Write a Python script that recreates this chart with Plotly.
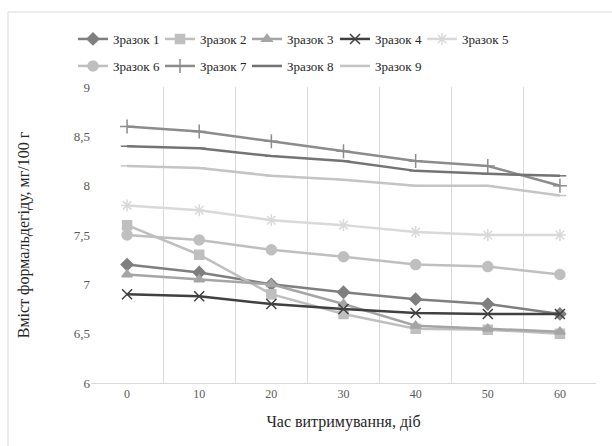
import plotly.graph_objects as go

days = ["0", "10", "20", "30", "40", "50", "60"]
names = ["Зразок 1", "Зразок 2", "Зразок 3", "Зразок 4", "Зразок 5",
         "Зразок 6", "Зразок 7", "Зразок 8", "Зразок 9"]
s1 = [7.20, 7.12, 7.00, 6.92, 6.85, 6.80, 6.70]
s2 = [7.60, 7.30, 6.90, 6.70, 6.55, 6.54, 6.50]
s3 = [7.10, 7.05, 7.00, 6.80, 6.58, 6.55, 6.52]
s4 = [6.90, 6.88, 6.80, 6.75, 6.71, 6.70, 6.70]
s5 = [7.80, 7.75, 7.65, 7.60, 7.53, 7.50, 7.50]
s6 = [7.50, 7.45, 7.35, 7.28, 7.20, 7.18, 7.10]
s7 = [8.60, 8.55, 8.45, 8.35, 8.25, 8.20, 8.00]
s8 = [8.40, 8.38, 8.30, 8.25, 8.15, 8.12, 8.10]
s9 = [8.20, 8.18, 8.10, 8.06, 8.00, 8.00, 7.90]
series = [s1, s2, s3, s4, s5, s6, s7, s8, s9]

colors = ["#7f7f7f", "#bfbfbf", "#a5a5a5", "#404040", "#d9d9d9",
          "#bfbfbf", "#8c8c8c", "#737373", "#c4c4c4"]
symbols = ["diamond", "square", "triangle-up", "x-thin-open", "asterisk-open",
           "circle", "cross-thin-open", "line-ew-open", "line-ew-open"]
sizes = [9, 9, 9, 10, 10, 10, 10, 9, 9]

FONT = "Liberation Serif, Times New Roman, serif"

L, R, T, B = 91, 596, 87, 383
W, H = 612, 446
pw, ph = R - L, B - T

# legend entry pixel anchors (left of symbol, row centre)
leg_x = [79, 166, 253, 341, 428, 79, 166, 253, 341]
leg_y = [39, 39, 39, 39, 39, 66, 66, 66, 66]

fig = go.Figure()
legends = {}
for i, (name, ys, c, sym, sz) in enumerate(zip(names, series, colors, symbols, sizes)):
    lname = "legend" if i == 0 else f"legend{i + 1}"
    fig.add_trace(go.Scatter(
        x=days, y=ys, name=name, mode="lines+markers",
        legend=lname,
        line=dict(color=c, width=2.5),
        marker=dict(symbol=sym, size=sz, color=c, line=dict(color=c, width=1.5)),
    ))
    legends[lname] = dict(orientation="h", xanchor="left", yanchor="middle",
                          x=(leg_x[i] - 6 - L) / pw, y=(B - leg_y[i]) / ph,
                          font=dict(family=FONT, size=13, color="#262626"),
                          itemwidth=30, bgcolor="rgba(0,0,0,0)")

fig.update_layout(
    width=W, height=H,
    margin=dict(l=L, r=W - R, t=T, b=H - B, autoexpand=False),
    paper_bgcolor="white", plot_bgcolor="white",
    separators=", ",
    font=dict(family=FONT, color="#595959"),
    showlegend=True,
    xaxis=dict(type="category", range=[-0.5, 6.5], tickson="boundaries",
               showgrid=True, gridcolor="#d9d9d9", gridwidth=1,
               showline=True, linecolor="#d9d9d9", linewidth=1,
               ticks="", tickfont=dict(family=FONT, size=12, color="#595959"),
               title=dict(text="Час витримування, діб",
                          font=dict(family=FONT, size=16, color="#262626"), standoff=15),
               zeroline=False),
    yaxis=dict(range=[6, 9], dtick=0.5, tick0=6, showgrid=False,
               showline=False, zeroline=False, ticks="",
               tickfont=dict(family=FONT, size=13, color="#595959"),
               tickformat=".1~f",
               title=dict(text="Вміст формальдегіду, мг/100 г",
                          font=dict(family=FONT, size=16, color="#262626"), standoff=40)),
    **legends,
)

# outer chart border (left and top visible)
fig.add_shape(type="line", xref="paper", yref="paper",
              x0=(8 - L) / pw, x1=(8 - L) / pw, y0=(B - 446) / ph, y1=(B - 12) / ph,
              line=dict(color="#d9d9d9", width=1))
fig.add_shape(type="line", xref="paper", yref="paper",
              x0=(8 - L) / pw, x1=(612 - L) / pw, y0=(B - 12) / ph, y1=(B - 12) / ph,
              line=dict(color="#d9d9d9", width=1))

fig.write_html("out.html", config={"displayModeBar": False},
               post_script="document.body.style.margin='0';document.body.style.overflow='hidden';")
